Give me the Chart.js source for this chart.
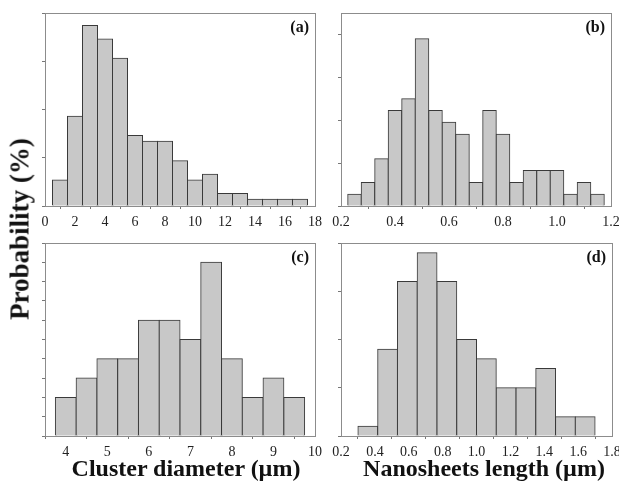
<!DOCTYPE html>
<html>
<head>
<meta charset="utf-8">
<script src="https://cdn.jsdelivr.net/npm/chart.js@4"></script>
<style>
  body { margin: 0; width: 619px; height: 488px; background: #fff; position: relative; overflow: hidden;
         font-family: "Liberation Serif", "Times New Roman", serif; }
  canvas { position: absolute; }
  .title { position: absolute; font-weight: bold; font-size: 24px; color: #111; white-space: nowrap;
           transform: translate(-50%, -50%); }
</style>
</head>
<body>
<canvas id="panelA" width="297" height="232" style="left:25px; top:0px"></canvas>
<canvas id="panelB" width="298" height="232" style="left:321px; top:0px"></canvas>
<canvas id="panelC" width="297" height="230" style="left:25px; top:232px"></canvas>
<canvas id="panelD" width="298" height="230" style="left:321px; top:232px"></canvas>
<div class="title" style="left:20px; top:229px; font-size:27px; transform: translate(-50%, -50%) rotate(-90deg)">Probability (%)</div>
<div class="title" style="left:186px; top:468px">Cluster diameter (µm)</div>
<div class="title" style="left:484px; top:468px">Nanosheets length (µm)</div>
<script>
// (a) cluster diameter, bins of 1 µm
const binsA = [1, 2, 3, 4, 5, 6, 7, 8, 9, 10, 11, 12, 13, 14, 15, 16, 17];
const probA = [2.7, 9.3, 18.7, 17.3, 15.3, 7.3, 6.7, 6.7, 4.7, 2.7, 3.3, 1.3, 1.3, 0.7, 0.7, 0.7, 0.7];
const xTicksA = [0, 2, 4, 6, 8, 10, 12, 14, 16, 18];
const yTicksA = [0, 5, 10, 15, 20];

// (b) nanosheets length, bins of 0.05 µm
const binsB = [0.25, 0.30, 0.35, 0.40, 0.45, 0.50, 0.55, 0.60, 0.65, 0.70, 0.75, 0.80, 0.85, 0.90, 0.95, 1.00, 1.05, 1.10, 1.15];
const probB = [1.1, 2.2, 4.4, 8.9, 10.0, 15.6, 8.9, 7.8, 6.7, 2.2, 8.9, 6.7, 2.2, 3.3, 3.3, 3.3, 1.1, 2.2, 1.1];
const xTicksB = [0.2, 0.4, 0.6, 0.8, 1.0, 1.2];
const yTicksB = [0, 4, 8, 12, 16];

// (c) cluster diameter, bins of 0.5 µm
const binsC = [4, 4.5, 5, 5.5, 6, 6.5, 7, 7.5, 8, 8.5, 9, 9.5];
const probC = [4, 6, 8, 8, 12, 12, 10, 18, 8, 4, 6, 4];
const xTicksC = [4, 5, 6, 7, 8, 9, 10];
const yTicksC = [0, 2, 4, 6, 8, 10, 12, 14, 16, 18, 20];

// (d) nanosheets length, 12 bins between 0.3 and 1.7 µm
const binsD = [0.3583, 0.475, 0.5917, 0.7083, 0.825, 0.9417, 1.0583, 1.175, 1.2917, 1.4083, 1.525, 1.6417];
const probD = [1, 9, 16, 19, 16, 10, 8, 5, 5, 7, 2, 2];
const xTicksD = [0.2, 0.4, 0.6, 0.8, 1.0, 1.2, 1.4, 1.6, 1.8];
const yTicksD = [0, 5, 10, 15, 20];

const frame = {
  id: 'frame',
  afterDatasetsDraw(chart, args, opts) {
    const { ctx, chartArea: a } = chart;
    ctx.save();
    ctx.strokeStyle = '#8c8c8c';
    ctx.lineWidth = 1;
    ctx.strokeRect(Math.round(a.left) + 0.5, Math.round(a.top) + 0.5,
                   Math.round(a.right - a.left), Math.round(a.bottom - a.top));
    ctx.fillStyle = '#111';
    ctx.font = 'bold 16px "Liberation Serif", serif';
    ctx.textAlign = 'right';
    ctx.textBaseline = 'middle';
    ctx.fillText(opts.letter, a.right - 6, a.top + 15);
    ctx.restore();
  }
};

function panel(id, bins, probs, xMin, xMax, yMax, xTicks, yTicks, decimals, letter, pad) {
  new Chart(document.getElementById(id), {
    type: 'bar',
    data: {
      datasets: [{
        data: bins.map((b, i) => ({ x: b, y: probs[i] })),
        backgroundColor: '#c8c8c8',
        borderColor: '#3a3a3a',
        borderWidth: 1,
        inflateAmount: 0.5,
        barPercentage: 1,
        categoryPercentage: 1
      }]
    },
    options: {
      responsive: false,
      animation: false,
      layout: { padding: { left: 0, top: pad.top, right: pad.right, bottom: 0 } },
      plugins: { legend: { display: false }, tooltip: { enabled: false }, frame: { letter } },
      scales: {
        x: {
          type: 'linear', min: xMin, max: xMax, offset: false,
          afterBuildTicks: s => { s.ticks = xTicks.map(v => ({ value: v })); },
          afterFit: s => { s.height = 26; s.paddingLeft = 0; s.paddingRight = 0; },
          grid: { drawOnChartArea: false, drawTicks: true, tickLength: 3, color: '#777' },
          border: { display: false },
          ticks: {
            padding: 5, color: '#222', maxRotation: 0, autoSkip: false,
            font: { family: '"Liberation Serif", serif', size: 14 },
            callback: v => decimals ? Number(v).toFixed(1) : v
          }
        },
        y: {
          min: 0, max: yMax,
          afterBuildTicks: s => { s.ticks = yTicks.map(v => ({ value: v })); },
          afterFit: s => { s.width = 20; s.paddingTop = 0; s.paddingBottom = 0; },
          grid: { drawOnChartArea: false, drawTicks: true, tickLength: 3, color: '#777' },
          border: { display: false },
          ticks: { display: false }
        }
      }
    },
    plugins: [frame]
  });
}

panel('panelA', binsA, probA, 0, 18, 20, xTicksA, yTicksA, false, '(a)', { top: 13, right: 7 });
panel('panelB', binsB, probB, 0.2, 1.2, 18, xTicksB, yTicksB, true, '(b)', { top: 13, right: 8 });
panel('panelC', binsC, probC, 3.5, 10, 20, xTicksC, yTicksC, false, '(c)', { top: 11, right: 7 });
panel('panelD', binsD, probD, 0.2, 1.8, 20, xTicksD, yTicksD, true, '(d)', { top: 11, right: 7 });
</script>
</body>
</html>
